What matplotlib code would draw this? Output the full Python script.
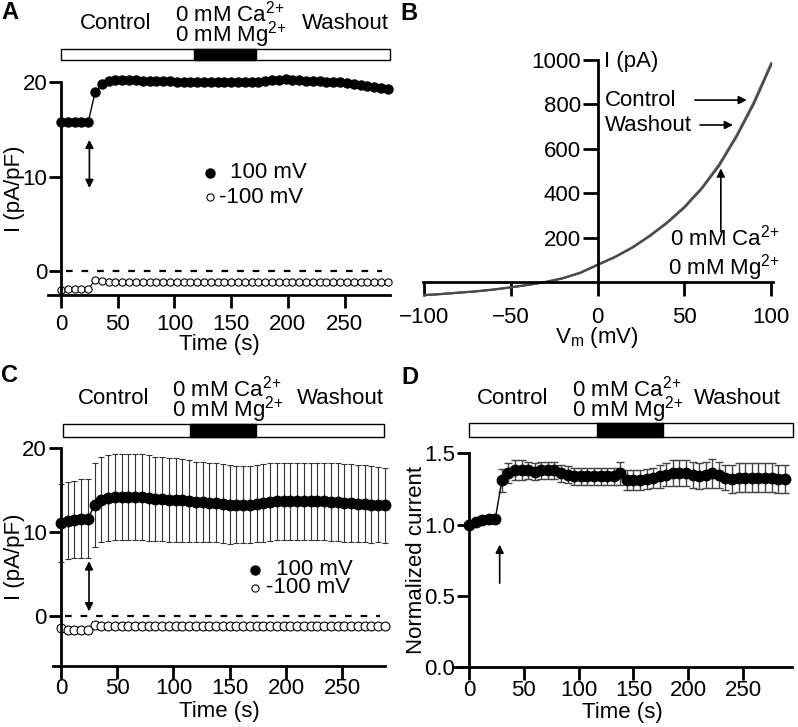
import matplotlib
matplotlib.use("Agg")
import matplotlib.pyplot as plt
from matplotlib.patches import Rectangle

plt.rcParams['font.family'] = ['Liberation Sans', 'DejaVu Sans']
plt.rcParams['mathtext.fontset'] = 'custom'
plt.rcParams['mathtext.rm'] = 'Liberation Sans'
plt.rcParams['mathtext.it'] = 'Liberation Sans:italic'
plt.rcParams['mathtext.bf'] = 'Liberation Sans:bold'
plt.rcParams['font.size'] = 16

# sampling times (s)
time = list(range(0, 289, 6))

# panel A: single cell, I (pA/pF)
a_pos = [15.8, 15.8, 15.8, 15.8, 15.8, 18.9, 19.8, 20.1, 20.2, 20.2,
         20.2, 20.2, 20.15, 20.15, 20.1, 20.1, 20.1, 20.05, 20.05, 20.0,
         20.0, 20.0, 19.95, 19.95, 19.95, 19.95, 19.95, 19.95, 20.0, 20.05,
         20.1, 20.2, 20.25, 20.3, 20.25, 20.2, 20.15, 20.1, 20.1, 20.05,
         20.0, 19.95, 19.85, 19.75, 19.65, 19.55, 19.45, 19.35, 19.25]
a_neg = [-1.95, -1.85, -1.85, -1.85, -1.85, -0.95, -1.05, -1.1, -1.1, -1.1,
         -1.1, -1.1, -1.1, -1.1, -1.1, -1.1, -1.1, -1.1, -1.1, -1.1,
         -1.1, -1.1, -1.1, -1.1, -1.1, -1.1, -1.1, -1.1, -1.1, -1.1,
         -1.1, -1.1, -1.1, -1.1, -1.1, -1.1, -1.1, -1.1, -1.1, -1.1,
         -1.1, -1.1, -1.1, -1.1, -1.1, -1.1, -1.1, -1.1, -1.1]

# panel B: I-V ramps (pA)
vm = [-100, -90, -80, -70, -60, -50, -40, -30, -20, -10, 0,
      10, 20, 30, 40, 50, 60, 70, 80, 90, 100]
iv_control = [-57, -52, -46, -40, -32, -22, -11, 2, 19, 44, 80,
              115, 158, 210, 270, 340, 425, 530, 660, 810, 985]
iv_zero = [-58, -53, -47, -41, -33, -23, -12, 1, 18, 42, 78,
           113, 155, 207, 266, 335, 420, 523, 652, 800, 975]
iv_wash = [-57, -52, -46, -40, -32, -22, -11, 2, 19, 43, 79,
           114, 157, 209, 268, 338, 423, 527, 656, 805, 980]

# panel C: mean +/- SD, I (pA/pF)
c_pos = [11.1, 11.4, 11.5, 11.6, 11.6, 13.3, 13.9, 14.1, 14.2, 14.2,
         14.2, 14.2, 14.2, 14.1, 14.0, 14.0, 13.9, 13.9, 13.8, 13.7,
         13.6, 13.6, 13.5, 13.5, 13.4, 13.3, 13.3, 13.3, 13.3, 13.4,
         13.5, 13.6, 13.7, 13.7, 13.7, 13.7, 13.7, 13.7, 13.7, 13.7,
         13.6, 13.6, 13.5, 13.5, 13.4, 13.4, 13.3, 13.3, 13.2]
c_pos_sd = [4.6, 4.6, 4.6, 4.7, 4.7, 5.0, 5.1, 5.1, 5.1, 5.1,
            5.1, 5.1, 5.1, 5.1, 5.0, 5.0, 5.0, 5.0, 4.9, 4.9,
            4.8, 4.8, 4.7, 4.7, 4.7, 4.7, 4.6, 4.6, 4.6, 4.6,
            4.6, 4.6, 4.6, 4.6, 4.6, 4.6, 4.6, 4.6, 4.6, 4.6,
            4.6, 4.6, 4.6, 4.6, 4.6, 4.6, 4.6, 4.5, 4.5]
c_neg = [-1.4, -1.6, -1.6, -1.6, -1.6, -1.0, -1.1, -1.15, -1.2, -1.2,
         -1.2, -1.2, -1.2, -1.2, -1.2, -1.2, -1.2, -1.2, -1.2, -1.2,
         -1.2, -1.2, -1.2, -1.2, -1.2, -1.2, -1.2, -1.2, -1.2, -1.2,
         -1.2, -1.2, -1.2, -1.2, -1.2, -1.2, -1.2, -1.2, -1.2, -1.2,
         -1.2, -1.2, -1.2, -1.2, -1.2, -1.2, -1.2, -1.2, -1.1]

# panel D: normalized current, mean +/- SEM
d_norm = [1.00, 1.02, 1.03, 1.04, 1.04, 1.31, 1.36, 1.38, 1.38, 1.38,
          1.37, 1.38, 1.38, 1.38, 1.36, 1.35, 1.34, 1.34, 1.34, 1.34,
          1.34, 1.34, 1.34, 1.36, 1.31, 1.31, 1.31, 1.32, 1.33, 1.34,
          1.35, 1.36, 1.36, 1.36, 1.35, 1.34, 1.35, 1.36, 1.35, 1.33,
          1.32, 1.33, 1.33, 1.33, 1.33, 1.33, 1.33, 1.32, 1.32]
d_err = [0.01, 0.01, 0.01, 0.01, 0.01, 0.08, 0.07, 0.07, 0.07, 0.06,
         0.06, 0.06, 0.06, 0.06, 0.06, 0.06, 0.06, 0.06, 0.06, 0.06,
         0.06, 0.06, 0.06, 0.08, 0.07, 0.07, 0.07, 0.07, 0.07, 0.08,
         0.08, 0.09, 0.09, 0.09, 0.09, 0.09, 0.09, 0.10, 0.09, 0.09,
         0.10, 0.10, 0.10, 0.10, 0.10, 0.10, 0.10, 0.10, 0.10]

time_ticks = [0, 50, 100, 150, 200, 250]
ca_txt = '0 mM Ca$^{2{+}}$'
mg_txt = '0 mM Mg$^{2{+}}$'

fig = plt.figure(figsize=(7.98, 7.27), dpi=100)


def time_axes(ax, xlim, ylim, yticks, pad):
    ax.set_xlim(xlim)
    ax.set_ylim(ylim)
    ax.spines['top'].set_visible(False)
    ax.spines['right'].set_visible(False)
    ax.spines['left'].set_position(('data', 0))
    ax.spines['left'].set_bounds(ylim[0], yticks[-1])
    ax.spines['left'].set_linewidth(2)
    ax.spines['bottom'].set_linewidth(2)
    ax.set_xticks(time_ticks)
    ax.set_yticks(yticks)
    ax.tick_params(width=2, length=9, labelsize=16)
    ax.tick_params(axis='x', pad=pad)
    ax.tick_params(axis='y', pad=1)
    ax.set_xlabel('Time (s)', labelpad=-1)


def stim_bar(ax, x0, x1, b0, b1, y0, y1):
    ax.add_patch(Rectangle((x0, y0), x1 - x0, y1 - y0, fc='white', ec='black',
                           lw=1, clip_on=False))
    ax.add_patch(Rectangle((b0, y0), b1 - b0, y1 - y0, fc='black', ec='black',
                           lw=1, clip_on=False))


def stim_text(ax, xc, xs, xw, yc, yca, ymg):
    ax.text(xc, yc, 'Control', ha='center', va='center')
    ax.text(xs, yca, ca_txt, ha='left', va='center')
    ax.text(xs, ymg, mg_txt, ha='left', va='center')
    ax.text(xw, yc, 'Washout', ha='center', va='center')


# ---- A ----
axA = fig.add_axes([48 / 798, 432 / 727, 342 / 798, 213 / 727])
time_axes(axA, (-11.5, 290), (-2.5, 20), [0, 10, 20], 5)
axA.set_ylabel('I (pA/pF)', labelpad=-2)
axA.hlines(0, 4, 283, colors='black', lw=1.6, linestyles=(0, (3, 4)))
axA.plot(time, a_pos, '-o', color='black', ms=6.5, lw=1, clip_on=False)
axA.plot(time, a_neg, '-o', color='black', mfc='white', mew=0.8, ms=5.2, lw=0.8,
         clip_on=False)
axA.annotate('', xy=(25, 8.8), xytext=(25, 13.9),
             arrowprops=dict(arrowstyle='<|-|>', color='black', lw=1.2,
                             mutation_scale=12, shrinkA=0, shrinkB=0))
axA.plot([131], [10.4], 'o', color='black', ms=6.5)
axA.plot([131], [7.8], 'o', color='black', mfc='white', mew=0.8, ms=5.2)
axA.text(149, 10.4, '100 mV', va='center')
axA.text(139, 7.8, '-100 mV', va='center')
stim_bar(axA, 0, 290, 117, 172, 22.3, 23.5)
stim_text(axA, 48, 100.5, 250.5, 26.2, 27.25, 25.0)
fig.text(1 / 798, 1 - 1 / 727, 'A', fontsize=17, fontweight='bold', va='top')

# ---- B ----
axB = fig.add_axes([421.7 / 798, 431.3 / 727, 350.3 / 798, 235.9 / 727])
axB.set_xlim(-101.5, 100.5)
axB.set_ylim(-60, 1000)
axB.spines['top'].set_visible(False)
axB.spines['right'].set_visible(False)
axB.spines['left'].set_position(('data', 0))
axB.spines['bottom'].set_position(('data', 0))
axB.spines['left'].set_bounds(0, 1000)
axB.spines['bottom'].set_bounds(-101, 101)
axB.spines['left'].set_linewidth(2)
axB.spines['bottom'].set_linewidth(2)
axB.set_xticks([-100, -50, 0, 50, 100])
axB.set_yticks([200, 400, 600, 800, 1000])
axB.tick_params(width=2, length=11, labelsize=16)
axB.tick_params(axis='x', length=10, pad=8)
axB.tick_params(axis='y', pad=1)
axB.plot(vm, iv_control, color='#6a6a6a', lw=1.6, clip_on=False)
axB.plot(vm, iv_wash, color='#5a5a5a', lw=1.4, clip_on=False)
axB.plot(vm, iv_zero, color='#4a4a4a', lw=1.4, clip_on=False)
axB.text(3.7, 993, 'I (pA)', va='center')
axB.text(4, 819, 'Control', va='center')
axB.text(4, 707, 'Washout', va='center')
axB.text(105, 202, ca_txt, ha='right', va='center')
axB.text(105, 66, mg_txt, ha='right', va='center')
arr = dict(arrowstyle='-|>', color='black', lw=1.2, mutation_scale=12,
           shrinkA=0, shrinkB=0)
axB.annotate('', xy=(86, 819), xytext=(56, 819), arrowprops=arr)
axB.annotate('', xy=(78, 707), xytext=(59, 707), arrowprops=arr)
axB.annotate('', xy=(71, 512), xytext=(71, 227), arrowprops=arr)
axB.set_xlabel('V$_\\mathrm{m}$ (mV)', labelpad=0)
axB.xaxis.set_label_coords(0.5, -0.125)
fig.text(400 / 798, 1 - 2 / 727, 'B', fontsize=17, fontweight='bold', va='top')

# ---- C ----
axC = fig.add_axes([53 / 798, 61 / 727, 332 / 798, 217.7 / 727])
time_axes(axC, (-7, 288), (-5.9, 20), [0, 10, 20], 0)
axC.set_ylabel('I (pA/pF)', labelpad=-2)
axC.xaxis.labelpad = 1
axC.hlines(0, 4, 284, colors='black', lw=1.6, linestyles=(0, (3, 4)))
axC.errorbar(time, c_pos, yerr=c_pos_sd, fmt='none', ecolor='#333333',
             elinewidth=0.8, capsize=2.5, capthick=0.8, clip_on=False)
axC.plot(time, c_pos, '-o', color='black', ms=7.5, lw=1, clip_on=False)
axC.plot(time, c_neg, '-o', color='black', mfc='white', mew=0.8, ms=6.4, lw=0.8,
         clip_on=False)
axC.annotate('', xy=(25, 0.6), xytext=(25, 6.56),
             arrowprops=dict(arrowstyle='<|-|>', color='black', lw=1.2,
                             mutation_scale=12, shrinkA=0, shrinkB=0))
axC.plot([172.5], [5.58], 'o', color='black', ms=6.5)
axC.plot([172.5], [3.4], 'o', color='black', mfc='white', mew=0.8, ms=5.2)
axC.text(191.5, 5.58, '100 mV', va='center')
axC.text(182, 3.4, '-100 mV', va='center')
stim_bar(axC, 1.5, 287, 115, 173, 21.3, 22.9)
stim_text(axC, 47, 99, 248, 25.9, 27.1, 24.6)
fig.text(1 / 798, 1 - 364 / 727, 'C', fontsize=17, fontweight='bold', va='top')

# ---- D ----
axD = fig.add_axes([453.3 / 798, 59.7 / 727, 338.4 / 798, 214 / 727])
time_axes(axD, (-14.3, 294.4), (0, 1.5), [0.0, 0.5, 1.0, 1.5], 0)
axD.set_yticklabels(['0.0', '0.5', '1.0', '1.5'])
axD.set_ylabel('Normalized current', labelpad=-2)
axD.xaxis.labelpad = 1
axD.errorbar(time, d_norm, yerr=d_err, fmt='none', ecolor='#444444',
             elinewidth=1, capsize=3, capthick=1, clip_on=False)
axD.plot(time, d_norm, '-o', color='black', ms=7.5, lw=1, clip_on=False)
axD.annotate('', xy=(28, 0.86), xytext=(28, 0.59), arrowprops=arr)
stim_bar(axD, 0, 295.6, 117, 177, 1.614, 1.712)
stim_text(axD, 39.7, 93.7, 245, 1.886, 1.955, 1.805)
fig.text(401 / 798, 1 - 366 / 727, 'D', fontsize=17, fontweight='bold', va='top')

fig.savefig('out.png', dpi=100)
